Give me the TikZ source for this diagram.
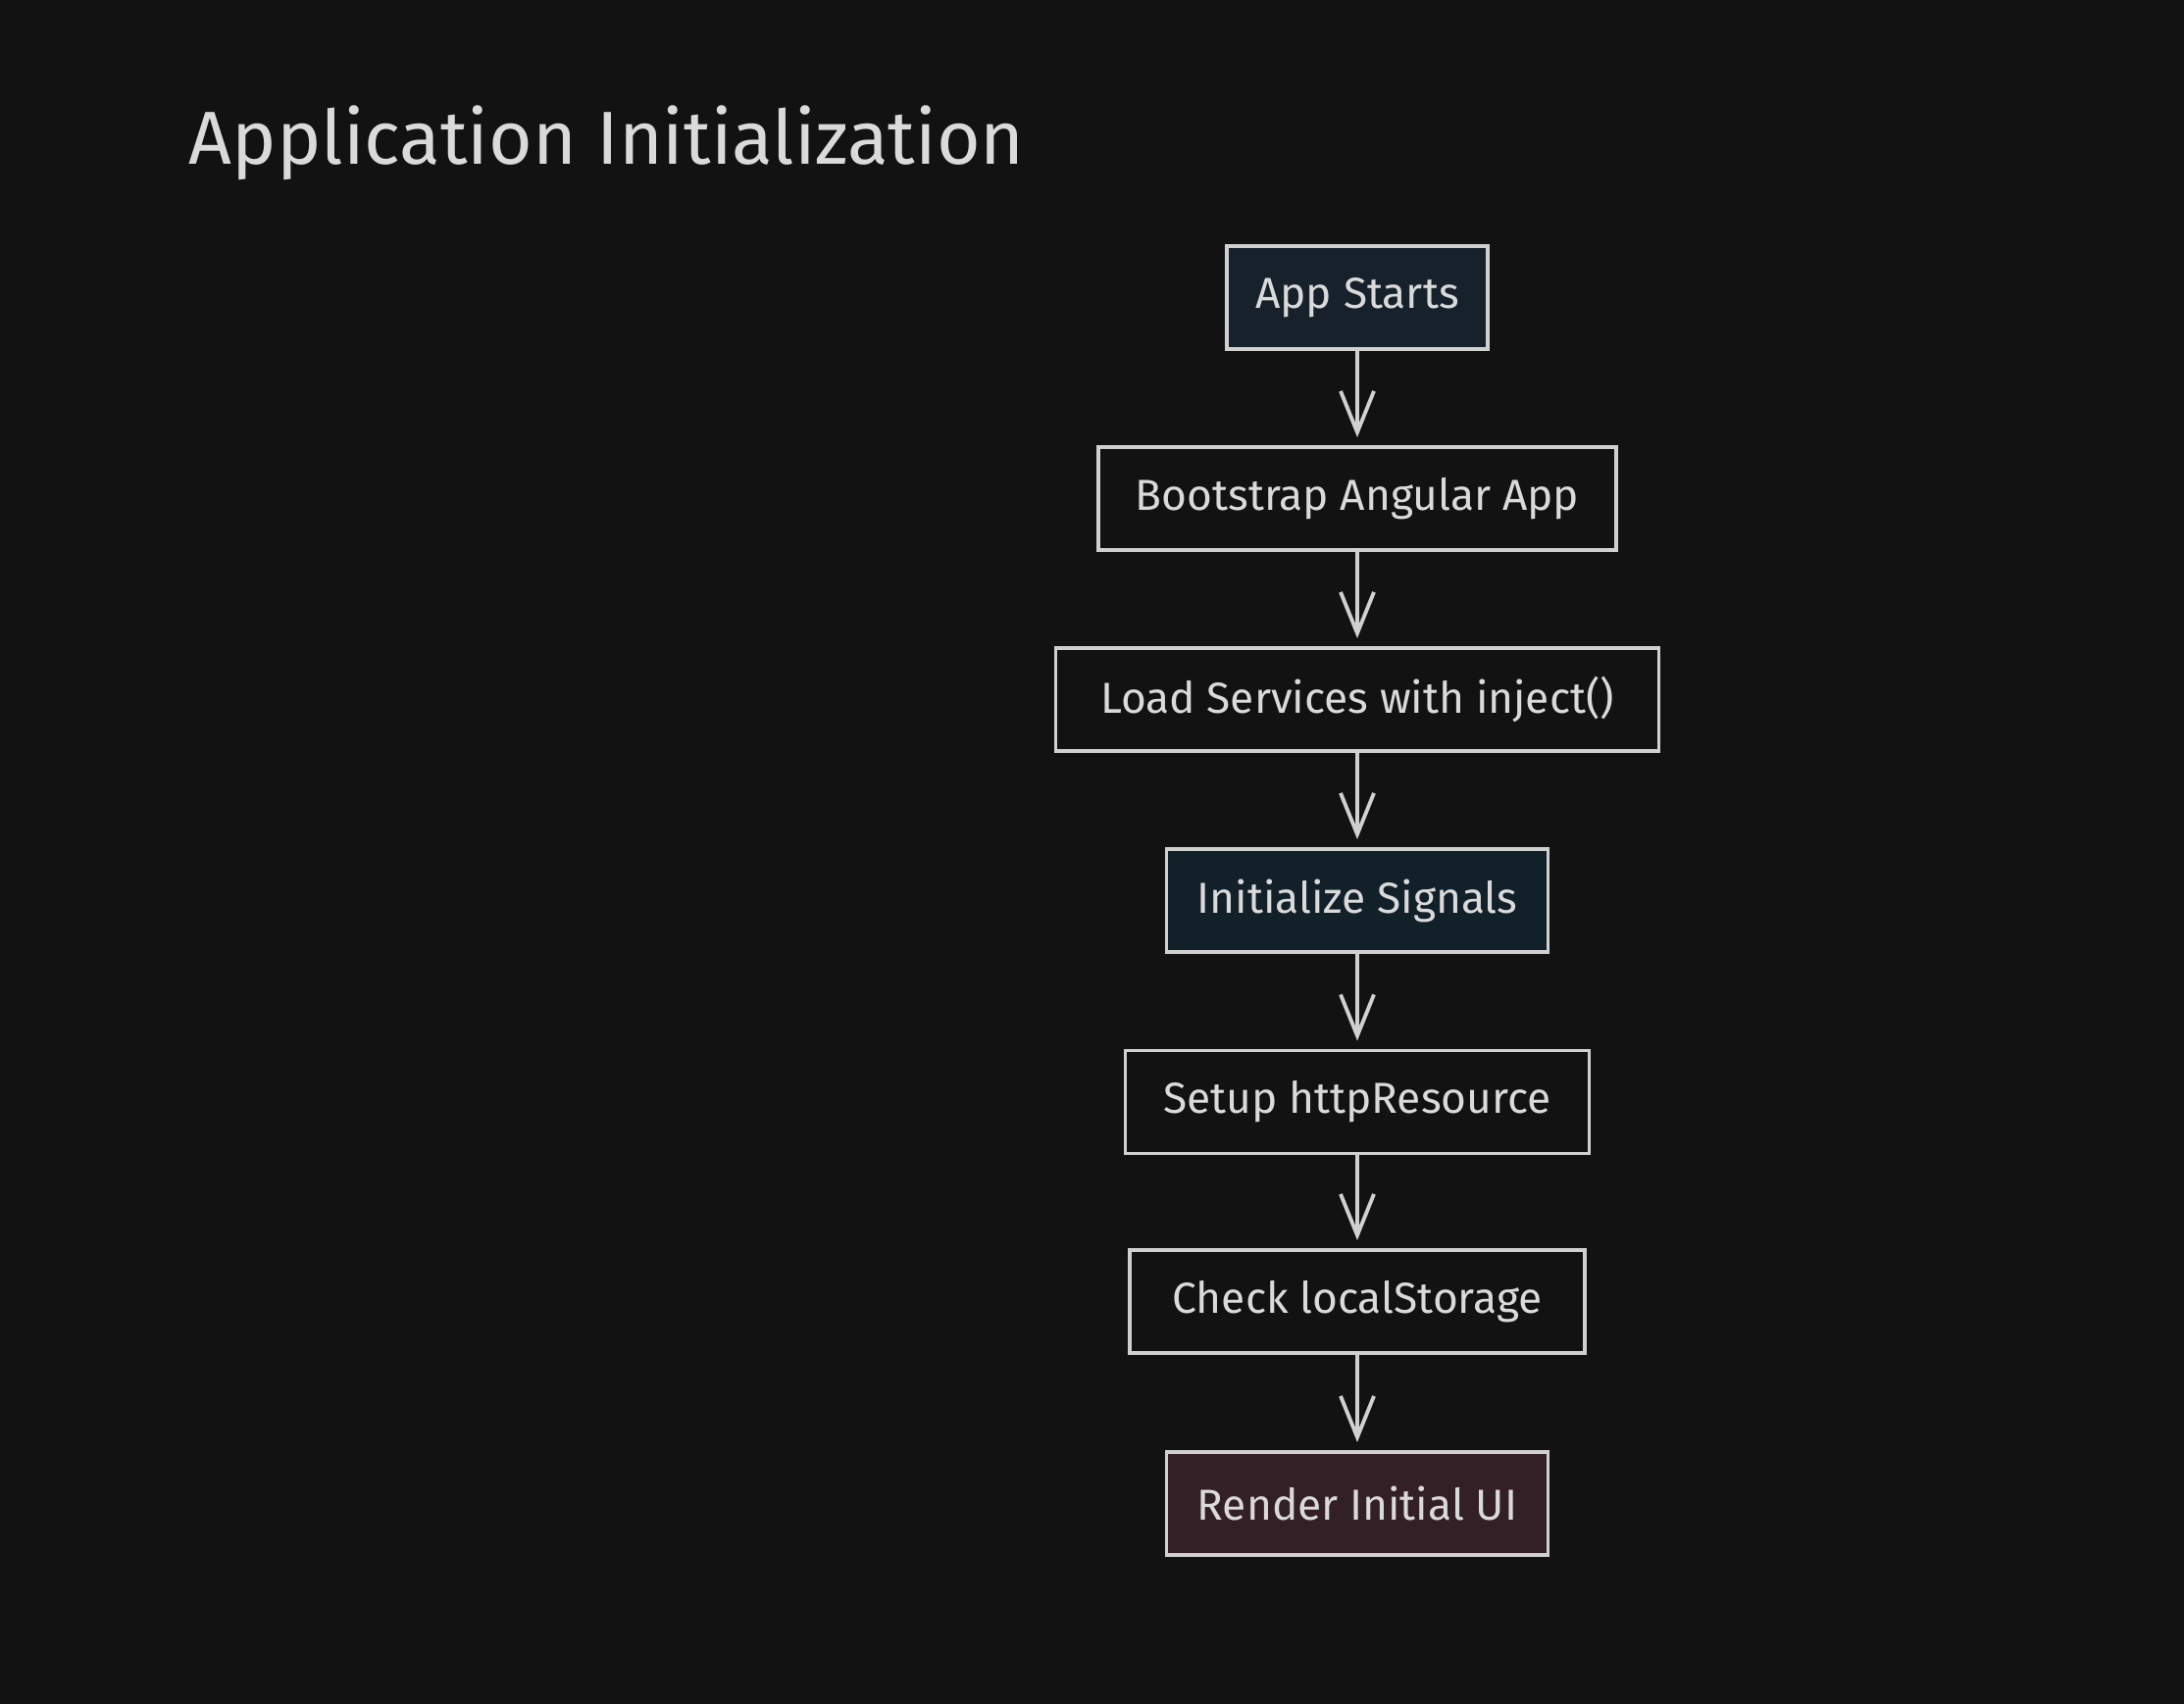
\documentclass[tikz,border=0pt]{standalone}
\usepackage{fontspec}
\setmainfont{Fira Sans}
\usetikzlibrary{arrows.meta,positioning}

\definecolor{bgdark}{HTML}{121212}
\definecolor{strokegray}{HTML}{D0D0D0}
\definecolor{textgray}{HTML}{DADADA}
\definecolor{navyfill}{HTML}{16212B}
\definecolor{signalfill}{HTML}{12202A}
\definecolor{winefill}{HTML}{331F26}

\begin{document}
\begin{tikzpicture}[font=\fontsize{12.6}{15}\selectfont, text=textgray,
    >={Straight Barb[length=4.2mm, width=3.4mm, line width=1.1pt]},
    box/.style={draw=strokegray, line width=1.1pt, rectangle,
                minimum height=1.05cm, align=center, fill=bgdark},
    flow/.style={->, draw=strokegray, line width=1.1pt, shorten >=0.8mm}]

% background and page size
\fill[bgdark] (0,0) rectangle (22.27,-17.38);
\useasboundingbox (0,0) rectangle (22.27,-17.38);

\node[anchor=west, inner sep=0pt, font=\fontsize{21.8}{26}\selectfont] (title) at (1.92,-1.46)
    {Application Initialization};

\node[box, fill=navyfill,   minimum width=2.66cm] (start)     at (13.84, -3.035) {App Starts};
\node[box,                  minimum width=5.28cm] (bootstrap) at (13.84, -5.085) {Bootstrap Angular App};
\node[box,                  minimum width=6.15cm] (services)  at (13.84, -7.135) {Load Services with inject()};
\node[box, fill=signalfill, minimum width=3.89cm] (signals)   at (13.84, -9.185) {Initialize Signals};
\node[box,                  minimum width=4.73cm] (http)      at (13.84,-11.240) {Setup httpResource};
\node[box,                  minimum width=4.64cm] (storage)   at (13.84,-13.275) {Check localStorage};
\node[box, fill=winefill,   minimum width=3.89cm] (render)    at (13.84,-15.335) {Render Initial UI};

\draw[flow] (start.south)     -- (bootstrap.north);
\draw[flow] (bootstrap.south) -- (services.north);
\draw[flow] (services.south)  -- (signals.north);
\draw[flow] (signals.south)   -- (http.north);
\draw[flow] (http.south)      -- (storage.north);
\draw[flow] (storage.south)   -- (render.north);

\end{tikzpicture}
\end{document}
